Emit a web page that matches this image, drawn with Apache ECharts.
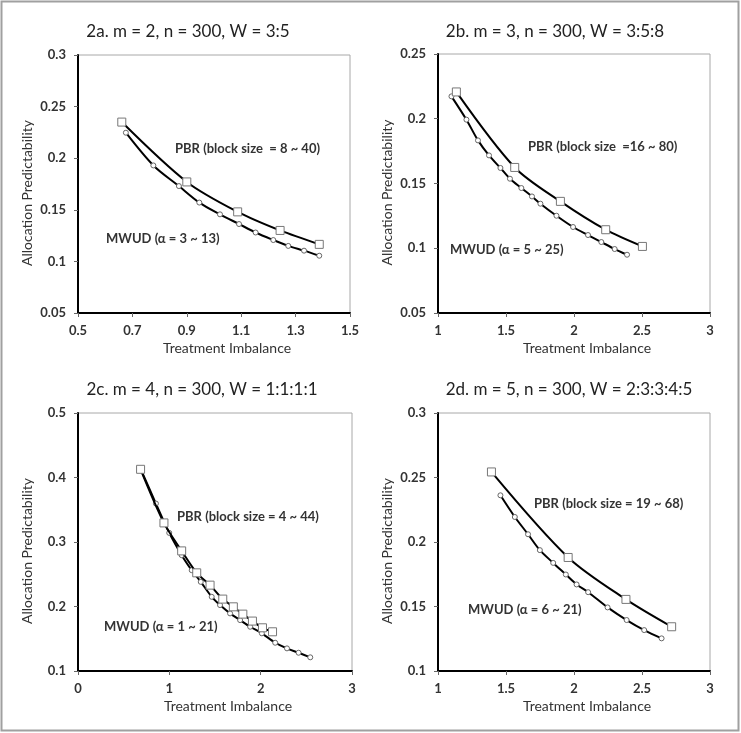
<!DOCTYPE html>
<html>
<head>
<meta charset="utf-8">
<script src="https://cdn.jsdelivr.net/npm/echarts@6/dist/echarts.min.js"></script>
<style>html,body{margin:0;padding:0;background:#fff}#c{width:741px;height:733px}</style>
</head>
<body>
<div id="c"></div>
<script>
// ---- Panel titles ----
const panelTitles = ["2a. m = 2, n = 300, W = 3:5", "2b. m = 3, n = 300, W = 3:5:8", "2c. m = 4, n = 300, W = 1:1:1:1", "2d. m = 5, n = 300, W = 2:3:3:4:5"];
const pbrLabels = ["PBR (block size  = 8 ~ 40)", "PBR (block size  =16 ~ 80)", "PBR (block size = 4 ~ 44)", "PBR (block size = 19 ~ 68)"];
const mwudLabels = ["MWUD (\u03b1 = 3 ~ 13)", "MWUD (\u03b1 = 5 ~ 25)", "MWUD (\u03b1 = 1 ~ 21)", "MWUD (\u03b1 = 6 ~ 21)"];
const xName = "Treatment Imbalance";
const yName = "Allocation Predictability";

// ---- Tick values ----
const xTicksA = [0.5, 0.7, 0.9, 1.1, 1.3, 1.5];
const yTicksA = [0.05, 0.1, 0.15, 0.2, 0.25, 0.3];
const xTicksB = [1, 1.5, 2, 2.5, 3];
const yTicksB = [0.05, 0.1, 0.15, 0.2, 0.25];
const xTicksC = [0, 1, 2, 3];
const yTicksC = [0.1, 0.2, 0.3, 0.4, 0.5];
const xTicksD = [1, 1.5, 2, 2.5, 3];
const yTicksD = [0.1, 0.15, 0.2, 0.25, 0.3];

// ---- Panel 2a ----
const pbrA_x = [0.661, 0.900, 1.087, 1.243, 1.387];
const pbrA_y = [0.235, 0.177, 0.148, 0.130, 0.1165];
const mwudA_x = [0.676, 0.777, 0.871, 0.946, 1.022, 1.092, 1.153, 1.218, 1.273, 1.331, 1.387];
const mwudA_y = [0.2247, 0.193, 0.173, 0.157, 0.1456, 0.1362, 0.128, 0.1207, 0.115, 0.1104, 0.1055];

// ---- Panel 2b ----
const pbrB_x = [1.135, 1.564, 1.900, 2.233, 2.503];
const pbrB_y = [0.2207, 0.1624, 0.1362, 0.1143, 0.1014];
const mwudB_x = [1.099, 1.209, 1.294, 1.375, 1.459, 1.529, 1.613, 1.691, 1.753, 1.871, 1.993, 2.103, 2.201, 2.299, 2.390];
const mwudB_y = [0.2173, 0.1993, 0.1833, 0.1717, 0.162, 0.1537, 0.1465, 0.140, 0.1344, 0.1251, 0.1164, 0.1102, 0.1048, 0.0994, 0.095];

// ---- Panel 2c ----
const pbrC_x = [0.685, 0.941, 1.135, 1.300, 1.446, 1.585, 1.701, 1.805, 1.910, 2.020, 2.130];
const pbrC_y = [0.4127, 0.3296, 0.2862, 0.2522, 0.2331, 0.2115, 0.1995, 0.1882, 0.1774, 0.167, 0.1608];
const mwudC_x = [0.688, 0.853, 0.999, 1.135, 1.245, 1.344, 1.464, 1.555, 1.665, 1.775, 1.885, 2.013, 2.159, 2.288, 2.415, 2.543];
const mwudC_y = [0.4127, 0.3596, 0.3141, 0.2796, 0.2563, 0.2382, 0.215, 0.2022, 0.1893, 0.1789, 0.1686, 0.1584, 0.1438, 0.1351, 0.1283, 0.1212];

// ---- Panel 2d ----
const pbrD_x = [1.393, 1.957, 2.382, 2.718];
const pbrD_y = [0.2543, 0.188, 0.1555, 0.1343];
const mwudD_x = [1.459, 1.565, 1.662, 1.749, 1.847, 1.940, 2.019, 2.104, 2.247, 2.387, 2.516, 2.644];
const mwudD_y = [0.2362, 0.2194, 0.206, 0.1937, 0.1838, 0.1748, 0.1671, 0.1611, 0.1493, 0.1395, 0.1317, 0.1253];

const FONT = 'Lato, "Open Sans", sans-serif';
const zip = (xs, ys) => xs.map((x, i) => [x, ys[i]]);

const grids = [
  {left: 78, top: 55, width: 272, height: 258},
  {left: 438, top: 54, width: 272, height: 259},
  {left: 78, top: 413, width: 274, height: 258},
  {left: 438, top: 413, width: 272, height: 258}
];
const xt = [xTicksA, xTicksB, xTicksC, xTicksD];
const yt = [yTicksA, yTicksB, yTicksC, yTicksD];
const pbr = [zip(pbrA_x, pbrA_y), zip(pbrB_x, pbrB_y), zip(pbrC_x, pbrC_y), zip(pbrD_x, pbrD_y)];
const mwud = [zip(mwudA_x, mwudA_y), zip(mwudB_x, mwudB_y), zip(mwudC_x, mwudC_y), zip(mwudD_x, mwudD_y)];

const titlePos = [[188, 32], [555, 32], [202, 390], [569, 390]];
const pbrPos = [[175, 149], [528, 147], [177, 517], [534, 504]];
const mwudPos = [[106, 239], [450, 250], [104, 627], [468, 610]];

function fmt(v){ return String(Math.round(v*1000)/1000); }

const textEls = [];
panelTitles.forEach((t, i) => textEls.push({type: 'text', x: titlePos[i][0], y: titlePos[i][1],
  style: {text: t, fontFamily: FONT, fontSize: 17, fill: '#222', align: 'center', verticalAlign: 'middle'}, z: 10}));
pbrLabels.forEach((t, i) => textEls.push({type: 'text', x: pbrPos[i][0], y: pbrPos[i][1],
  style: {text: t, fontFamily: FONT, fontSize: 13, fontWeight: 'bold', fill: '#333', verticalAlign: 'middle'}, z: 10}));
mwudLabels.forEach((t, i) => textEls.push({type: 'text', x: mwudPos[i][0], y: mwudPos[i][1],
  style: {text: t, fontFamily: FONT, fontSize: 13, fontWeight: 'bold', fill: '#333', verticalAlign: 'middle'}, z: 10}));

const option = {
  animation: false,
  backgroundColor: '#fff',
  grid: grids.map(g => Object.assign({show: true, borderColor: '#a8a8a8', borderWidth: 1, backgroundColor: 'transparent'}, g)),
  xAxis: xt.map((t, i) => ({
    type: 'value', gridIndex: i, min: t[0], max: t[t.length-1],
    name: xName, nameLocation: 'middle', nameGap: 28,
    nameTextStyle: {fontFamily: FONT, fontSize: 14, color: '#333', padding: [0, 0, 0, 26]},
    axisLine: {show: true, onZero: false, lineStyle: {color: '#000', width: 2}},
    axisTick: {show: true, length: 4, customValues: t, lineStyle: {color: '#666'}},
    axisLabel: {customValues: t, formatter: fmt, margin: 11, fontFamily: FONT, fontSize: 13, fontWeight: 'bold', color: '#333', showMinLabel: true, showMaxLabel: true},
    splitLine: {show: false}
  })),
  yAxis: yt.map((t, i) => ({
    type: 'value', gridIndex: i, min: t[0], max: t[t.length-1],
    name: yName, nameLocation: 'middle', nameGap: 44, nameRotate: 90,
    nameTextStyle: {fontFamily: FONT, fontSize: 14, color: '#333', padding: [0, 18, 0, 0]},
    axisLine: {show: true, onZero: false, lineStyle: {color: '#000', width: 2}},
    axisTick: {show: true, length: 4, customValues: t, lineStyle: {color: '#666'}},
    axisLabel: {customValues: t, formatter: fmt, margin: 12, fontFamily: FONT, fontSize: 13, fontWeight: 'bold', color: '#333', showMinLabel: true, showMaxLabel: true},
    splitLine: {show: false}
  })),
  series: [].concat(
    mwud.map((d, i) => ({
      type: 'line', name: 'MWUD', xAxisIndex: i, yAxisIndex: i, data: d, smooth: 0.3,
      symbol: 'circle', symbolSize: 5, showAllSymbol: true,
      lineStyle: {color: '#000', width: 2},
      itemStyle: {color: '#fff', borderColor: '#666', borderWidth: 1}, z: 2
    })),
    pbr.map((d, i) => ({
      type: 'line', name: 'PBR', xAxisIndex: i, yAxisIndex: i, data: d, smooth: 0.3,
      symbol: 'rect', symbolSize: 8, showAllSymbol: true,
      lineStyle: {color: '#000', width: 2},
      itemStyle: {color: '#fff', borderColor: '#777', borderWidth: 1}, z: 3
    }))
  ),
  graphic: [{type: 'rect', shape: {x: 1.5, y: 1.5, width: 737, height: 729}, style: {fill: 'none', stroke: '#a0a0a0', lineWidth: 2}, silent: true}].concat(textEls)
};

const chart = echarts.init(document.getElementById('c'), null, {renderer: 'canvas'});
chart.setOption(option);
</script>
</body>
</html>
